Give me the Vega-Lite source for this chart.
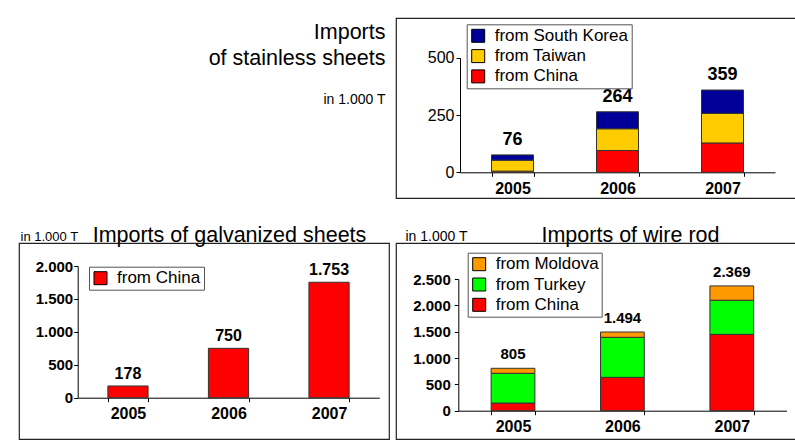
{
  "$schema": "https://vega.github.io/schema/vega-lite/v6.json",
  "background": "white",
  "padding": {"left": 18, "top": 17, "right": 0, "bottom": 0},
  "config": {
    "locale": {"number": {"decimal": ",", "thousands": ".", "grouping": [3], "currency": ["", " €"]}},
    "font": "Liberation Sans",
    "view": {"stroke": "#222", "strokeWidth": 1.2},
    "axis": {"domainColor": "#000", "tickColor": "#000", "tickSize": 4, "labelColor": "#000", "grid": false, "titleColor": "#000", "titleFont": "Liberation Sans", "titleFontWeight": "normal", "labelFont": "Liberation Sans", "labelAngle": 0},
    "legend": {"labelFontSize": 17, "labelFont": "Liberation Sans", "labelColor": "#000", "symbolType": "square", "symbolSize": 169, "symbolStrokeWidth": 1, "symbolStrokeColor": "#000", "symbolOpacity": 1, "strokeColor": "#555", "fillColor": "#fff", "padding": 3, "rowPadding": 2.3, "labelOffset": 8}
  },
  "datasets": {
    "stainless": [
      {"year": "2005", "source": "from China", "rank": 1, "value": 5},
      {"year": "2005", "source": "from Taiwan", "rank": 2, "value": 48},
      {"year": "2005", "source": "from South Korea", "rank": 3, "value": 23},
      {"year": "2006", "source": "from China", "rank": 1, "value": 95},
      {"year": "2006", "source": "from Taiwan", "rank": 2, "value": 95},
      {"year": "2006", "source": "from South Korea", "rank": 3, "value": 74},
      {"year": "2007", "source": "from China", "rank": 1, "value": 128},
      {"year": "2007", "source": "from Taiwan", "rank": 2, "value": 129},
      {"year": "2007", "source": "from South Korea", "rank": 3, "value": 102}
    ],
    "galvanized": [
      {"year": "2005", "source": "from China", "value": 178},
      {"year": "2006", "source": "from China", "value": 750},
      {"year": "2007", "source": "from China", "value": 1753}
    ],
    "wire": [
      {"year": "2005", "source": "from China", "rank": 1, "value": 145},
      {"year": "2005", "source": "from Turkey", "rank": 2, "value": 565},
      {"year": "2005", "source": "from Moldova", "rank": 3, "value": 95},
      {"year": "2006", "source": "from China", "rank": 1, "value": 633},
      {"year": "2006", "source": "from Turkey", "rank": 2, "value": 760},
      {"year": "2006", "source": "from Moldova", "rank": 3, "value": 101},
      {"year": "2007", "source": "from China", "rank": 1, "value": 1450},
      {"year": "2007", "source": "from Turkey", "rank": 2, "value": 647},
      {"year": "2007", "source": "from Moldova", "rank": 3, "value": 272}
    ]
  },
  "bounds": "flush",
  "columns": 2,
  "spacing": {"row": 45, "column": 7},
  "resolve": {
    "scale": {"x": "independent", "y": "independent", "color": "independent"},
    "axis": {"x": "independent", "y": "independent"},
    "legend": {"color": "independent"}
  },
  "concat": [
    {
      "width": 370, "height": 180,
      "view": {"stroke": null},
      "data": {"values": []},
      "mark": "point"
    },
    {
      "width": 402, "height": 180,
      "data": {"name": "stainless"},
      "encoding": {
        "x": {"field": "year", "type": "nominal",
          "scale": {"range": [64, 379], "paddingInner": 0.6, "paddingOuter": 0.3},
          "axis": {"title": ["Imports", "of stainless sheets"], "offset": -25.7, "labelFontSize": 16, "labelFontWeight": "bold", "labelPadding": 4, "tickBand": "extent",
            "titleX": -11, "titleY": -134, "titleAlign": "right", "titleBaseline": "alphabetic", "titleFontSize": 21.5, "titleLineHeight": 26}},
        "y": {"field": "value", "type": "quantitative",
          "scale": {"domain": [0, 500], "range": [154.3, 39.7]},
          "axis": {"values": [0, 250, 500], "format": "d", "labelOverlap": false, "title": "in 1.000 T", "titleAngle": 0, "titleX": -75, "titleY": 85, "titleAlign": "right", "titleBaseline": "alphabetic", "titleFontSize": 14, "offset": -64, "labelFontSize": 16, "labelPadding": 2}}
      },
      "layer": [
        {
          "mark": {"type": "bar", "stroke": "#333", "strokeWidth": 1},
          "encoding": {
            "color": {"field": "source", "type": "nominal",
              "scale": {"domain": ["from South Korea", "from Taiwan", "from China"], "range": ["#000099", "#ffcc00", "#ff0000"]},
              "legend": {"orient": "none", "legendX": 70.7, "legendY": 6.3, "title": null}},
            "order": {"field": "rank", "type": "quantitative"}
          }
        },
        {
          "transform": [{"aggregate": [{"op": "sum", "field": "value", "as": "value"}], "groupby": ["year"]}],
          "mark": {"type": "text", "baseline": "bottom", "dy": -6, "fontSize": 18, "fontWeight": "bold", "color": "#000"},
          "encoding": {
            "text": {"field": "value", "type": "quantitative", "format": ",d"}
          }
        }
      ]
    },
    {
      "width": 370, "height": 196,
      "data": {"name": "galvanized"},
      "encoding": {
        "x": {"field": "year", "type": "nominal",
          "scale": {"range": [58.7, 360.3], "paddingInner": 0.6, "paddingOuter": 0.3},
          "axis": {"title": "Imports of galvanized sheets", "offset": -41.3, "labelFontSize": 16, "labelFontWeight": "bold", "labelPadding": 4, "tickBand": "extent",
            "titleX": 210, "titleY": -156.5, "titleAlign": "center", "titleBaseline": "alphabetic", "titleFontSize": 21.5}},
        "y": {"field": "value", "type": "quantitative",
          "scale": {"domain": [0, 2000], "range": [154.7, 23]},
          "axis": {"values": [0, 500, 1000, 1500, 2000], "format": ",d", "labelOverlap": false, "title": "in 1.000 T", "titleAngle": 0, "titleX": -57.7, "titleY": -3, "titleAlign": "left", "titleBaseline": "alphabetic", "titleFontSize": 13, "offset": -58.7, "labelFontSize": 15, "labelFontWeight": "bold", "labelPadding": 1}}
      },
      "layer": [
        {
          "mark": {"type": "bar", "stroke": "#333", "strokeWidth": 1},
          "encoding": {
            "color": {"field": "source", "type": "nominal",
              "scale": {"domain": ["from China"], "range": ["#ff0000"]},
              "legend": {"orient": "none", "legendX": 70, "legendY": 23.7, "title": null}}
          }
        },
        {
          "mark": {"type": "text", "baseline": "bottom", "dy": -4, "fontSize": 16, "fontWeight": "bold", "color": "#000"},
          "encoding": {
            "text": {"field": "value", "type": "quantitative", "format": ",d"}
          }
        }
      ]
    },
    {
      "width": 402, "height": 196,
      "data": {"name": "wire"},
      "encoding": {
        "x": {"field": "year", "type": "nominal",
          "scale": {"range": [62.3, 390.5], "paddingInner": 0.6, "paddingOuter": 0.3},
          "axis": {"title": "Imports of wire rod", "offset": -28.3, "labelFontSize": 16, "labelFontWeight": "bold", "labelPadding": 4, "tickBand": "extent",
            "titleX": 234, "titleY": -169, "titleAlign": "center", "titleBaseline": "alphabetic", "titleFontSize": 21.5}},
        "y": {"field": "value", "type": "quantitative",
          "scale": {"domain": [0, 2500], "range": [167.7, 36]},
          "axis": {"values": [0, 500, 1000, 1500, 2000, 2500], "format": ",d", "labelOverlap": false, "title": "in 1.000 T", "titleAngle": 0, "titleX": -53.3, "titleY": -3, "titleAlign": "left", "titleBaseline": "alphabetic", "titleFontSize": 14, "offset": -62.3, "labelFontSize": 15, "labelFontWeight": "bold", "labelPadding": 4}}
      },
      "layer": [
        {
          "mark": {"type": "bar", "stroke": "#333", "strokeWidth": 1},
          "encoding": {
            "color": {"field": "source", "type": "nominal",
              "scale": {"domain": ["from Moldova", "from Turkey", "from China"], "range": ["#ff9900", "#00ff00", "#ff0000"]},
              "legend": {"orient": "none", "legendX": 71.7, "legendY": 9.7, "title": null}},
            "order": {"field": "rank", "type": "quantitative"}
          }
        },
        {
          "transform": [{"aggregate": [{"op": "sum", "field": "value", "as": "value"}], "groupby": ["year"]}],
          "mark": {"type": "text", "baseline": "bottom", "dy": -6, "fontSize": 15, "fontWeight": "bold", "color": "#000"},
          "encoding": {
            "text": {"field": "value", "type": "quantitative", "format": ",d"}
          }
        }
      ]
    }
  ]
}
